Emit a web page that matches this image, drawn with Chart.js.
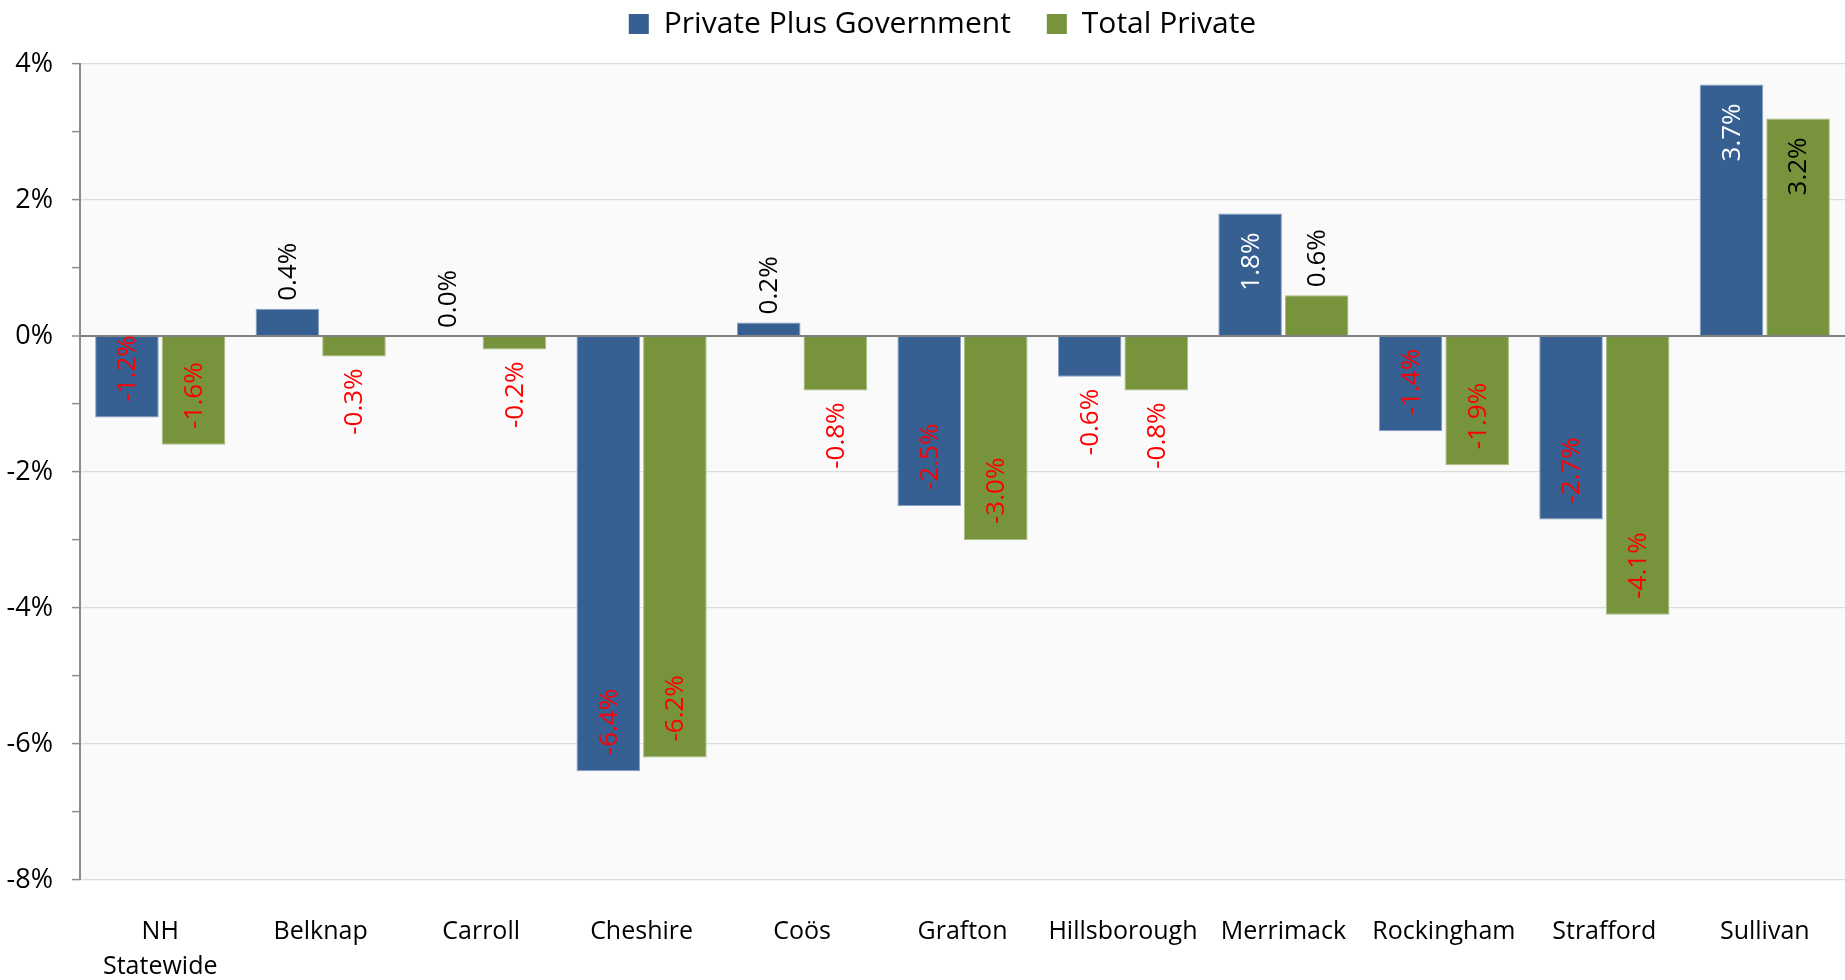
<!DOCTYPE html>
<html>
<head>
<meta charset="utf-8">
<script src="https://cdn.jsdelivr.net/npm/chart.js@4.4.1/dist/chart.umd.min.js"></script>
<style>
  html, body { margin: 0; padding: 0; background: #ffffff; }
  #wrap { width: 1845px; height: 980px; position: relative; }
</style>
</head>
<body>
<div id="wrap"><canvas id="c"></canvas></div>
<script>
// ---- data ----
const categories = [['NH', 'Statewide'], 'Belknap', 'Carroll', 'Cheshire', 'Coös', 'Grafton', 'Hillsborough', 'Merrimack', 'Rockingham', 'Strafford', 'Sullivan'];
const seriesNames = ['Private Plus Government', 'Total Private'];
const privatePlusGovernment = [-1.2, 0.4, 0.0, -6.4, 0.2, -2.5, -0.6, 1.8, -1.4, -2.7, 3.7];
const totalPrivate = [-1.6, -0.3, -0.2, -6.2, -0.8, -3.0, -0.8, 0.6, -1.9, -4.1, 3.2];
const yMin = -8, yMax = 4, yStep = 1, yLabelStep = 2;

const FONT = '"Open Sans", "Noto Sans", sans-serif';
const BLUE = '#376092', GREEN = '#77933C';
const LEGEND_PAD = 36;
const LAYOUT_TOP = -27;
const LEGEND_HEIGHT = 91;
const LEGEND_SHIFT = 20;

const plotBg = {
  id: 'plotBg',
  beforeDraw(chart) {
    const { ctx, chartArea: a } = chart;
    ctx.save();
    ctx.fillStyle = '#fafafa';
    ctx.fillRect(a.left, a.top, a.right - a.left, a.bottom - a.top);
    ctx.restore();
  }
};

// keep the legend's reserved height fixed so the plot top lines up, and nudge it right
const legendFit = {
  id: 'legendFit',
  beforeLayout(chart) {
    const lg = chart.legend;
    if (lg && !lg._fitPatched) {
      const orig = lg.fit;
      lg.fit = function () { orig.call(this); this.height = LEGEND_HEIGHT; };
      lg._fitPatched = true;
    }
  },
  afterLayout(chart) {
    const lg = chart.legend;
    if (lg) { lg.left += LEGEND_SHIFT; lg.right += LEGEND_SHIFT; }
  }
};

const barLabels = {
  id: 'barLabels',
  afterDatasetsDraw(chart) {
    const ctx = chart.ctx;
    ctx.save();
    ctx.font = '26px ' + FONT;
    ctx.textBaseline = 'middle';
    chart.data.datasets.forEach((ds, di) => {
      const meta = chart.getDatasetMeta(di);
      meta.data.forEach((el, i) => {
        const v = ds.data[i];
        const txt = v.toFixed(1) + '%';
        const tw = ctx.measureText(txt).width;
        const len = Math.abs(el.base - el.y);
        const inside = len >= tw + 10;
        let anchorY, align, color;
        if (v >= 0) {
          if (inside) { anchorY = el.y + 19; align = 'right'; color = di === 0 ? '#ffffff' : '#000000'; }
          else { anchorY = el.y - 8; align = 'left'; color = '#000000'; }
        } else {
          color = '#ff0000';
          if (inside) { anchorY = el.y - 16; align = 'left'; }
          else { anchorY = el.y + 12; align = 'right'; }
        }
        ctx.save();
        ctx.translate(el.x, anchorY);
        ctx.rotate(-Math.PI / 2);
        ctx.textAlign = align;
        ctx.fillStyle = color;
        ctx.fillText(txt, 0, 1);
        ctx.restore();
      });
    });
    ctx.restore();
  }
};

new Chart(document.getElementById('c'), {
  type: 'bar',
  data: {
    labels: categories,
    datasets: [
      { label: seriesNames[0], data: privatePlusGovernment, backgroundColor: BLUE, borderColor: '#86a0c4', borderWidth: 1 },
      { label: seriesNames[1], data: totalPrivate, backgroundColor: GREEN, borderColor: '#a8bd80', borderWidth: 1 }
    ]
  },
  options: {
    responsive: true,
    maintainAspectRatio: false,
    animation: false,
    devicePixelRatio: 1,
    layout: { padding: { top: LAYOUT_TOP, right: 0, bottom: 0, left: 0 } },
    datasets: { bar: { categoryPercentage: 0.83, barPercentage: 0.955 } },
    plugins: {
      legend: {
        position: 'top',
        labels: {
          font: { family: FONT, size: 30, lineHeight: 1.2 },
          color: '#000000',
          boxWidth: 20,
          boxHeight: 20,
          padding: LEGEND_PAD,
          generateLabels(chart) {
            return chart.data.datasets.map((d, i) => ({
              text: d.label, fillStyle: d.backgroundColor, strokeStyle: d.backgroundColor,
              lineWidth: 0, hidden: false, datasetIndex: i, fontColor: '#000000'
            }));
          }
        }
      },
      tooltip: { enabled: false }
    },
    scales: {
      x: {
        grid: { display: false, drawTicks: false },
        border: { display: false },
        ticks: {
          font: { family: FONT, size: 25, lineHeight: 1.4 },
          color: '#000000',
          padding: 34,
          maxRotation: 0,
          autoSkip: false
        },
        afterFit(s) { s.height = 100; }
      },
      y: {
        min: yMin,
        max: yMax,
        border: { display: true, color: '#8c8c8c', width: 2 },
        grid: {
          drawTicks: true,
          tickLength: 8,
          tickColor: '#8c8c8c',
          tickWidth: 1.5,
          color(c) {
            const v = c.tick ? c.tick.value : null;
            if (v === 0) return '#808080';
            return (v % yLabelStep === 0) ? '#dcdcdc' : 'rgba(0,0,0,0)';
          },
          lineWidth(c) { return (c.tick && c.tick.value === 0) ? 2 : 1.2; }
        },
        ticks: {
          stepSize: yStep,
          autoSkip: false,
          padding: 19,
          color: '#000000',
          font: { family: FONT, size: 27 },
          callback(v) { return (v % yLabelStep === 0) ? v + '%' : ''; }
        },
        afterFit(s) { s.width = 80; }
      }
    }
  },
  plugins: [plotBg, legendFit, barLabels]
});
</script>
</body>
</html>
